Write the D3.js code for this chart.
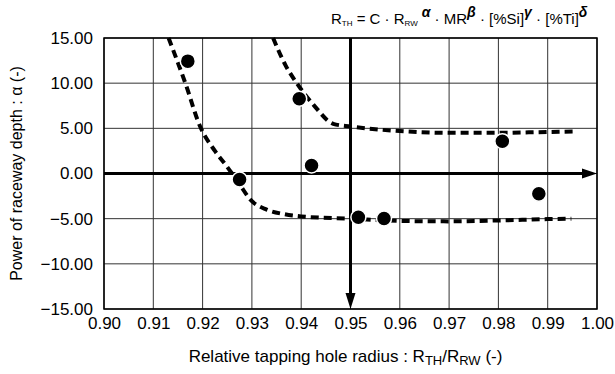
<!DOCTYPE html>
<html>
<head>
<meta charset="utf-8">
<script src="https://cdn.jsdelivr.net/npm/d3@7"></script>
<style>
  body { margin: 0; background: #fff; }
  text { font-family: "Liberation Sans", Arial, sans-serif; fill: #000; }
</style>
</head>
<body>
<div id="chart"></div>
<script>
// measured points
const ptX = [0.9170, 0.9275, 0.9396, 0.9421, 0.9516, 0.9568, 0.9808, 0.9882];
const ptY = [12.44, -0.66, 8.27, 0.89, -4.84, -4.98, 3.58, -2.25];

// dashed trend curves
const upperX = [0.9343, 0.9368, 0.9391, 0.9425, 0.9465, 0.9500, 0.9550, 0.9600, 0.9700, 0.9800, 0.9900, 0.9955];
const upperY = [15.0, 12.0, 10.0, 7.6, 5.5, 5.2, 4.9, 4.7, 4.5, 4.5, 4.6, 4.65];
const lowerX = [0.9131, 0.9165, 0.9195, 0.9225, 0.9249, 0.9275, 0.9297, 0.9330, 0.9365, 0.9400, 0.9500, 0.9600, 0.9700, 0.9800, 0.9900, 0.9948];
const lowerY = [15.0, 10.0, 5.2, 2.5, 0.8, -1.2, -2.9, -4.0, -4.5, -4.75, -5.0, -5.25, -5.3, -5.2, -5.05, -5.0];

const xTicks = [0.90, 0.91, 0.92, 0.93, 0.94, 0.95, 0.96, 0.97, 0.98, 0.99, 1.00];
const yTicks = [15, 10, 5, 0, -5, -10, -15];

const W = 615, H = 374;
const margin = { top: 38, right: 18, bottom: 65, left: 104 };
const width = W - margin.left - margin.right;
const height = H - margin.top - margin.bottom;

const svg = d3.select("#chart").append("svg")
    .attr("width", W)
    .attr("height", H);

const g = svg.append("g")
    .attr("transform", "translate(" + margin.left + "," + margin.top + ")");

const x = d3.scaleLinear().domain([0.90, 1.00]).range([0, width]);
const y = d3.scaleLinear().domain([-15, 15]).range([height, 0]);

// grid
g.selectAll(".gx").data(xTicks).enter().append("line")
    .attr("x1", d => x(d)).attr("x2", d => x(d))
    .attr("y1", 0).attr("y2", height)
    .attr("stroke", "#333").attr("stroke-width", 1);
g.selectAll(".gy").data(yTicks).enter().append("line")
    .attr("x1", 0).attr("x2", width)
    .attr("y1", d => y(d)).attr("y2", d => y(d))
    .attr("stroke", "#333").attr("stroke-width", 1);

// frame
g.append("rect")
    .attr("width", width).attr("height", height)
    .attr("fill", "none").attr("stroke", "#000").attr("stroke-width", 1.5);

// tick labels via axes
const xAxis = g.append("g")
    .attr("transform", "translate(0," + height + ")")
    .call(d3.axisBottom(x).tickValues(xTicks).tickFormat(d3.format(".2f")).tickSize(0).tickPadding(8));
const yAxis = g.append("g")
    .call(d3.axisLeft(y).tickValues(yTicks).tickFormat(d3.format(".2f")).tickSize(0).tickPadding(11));
[xAxis, yAxis].forEach(a => {
    a.select(".domain").remove();
    a.selectAll("text").style("font-size", "17px").style("font-family", '"Liberation Sans", Arial, sans-serif');
});

// thick axes with arrows
const x0 = x(0.95), y0 = y(0);
g.append("line")
    .attr("x1", 0).attr("x2", x(1.00) - 12)
    .attr("y1", y0).attr("y2", y0)
    .attr("stroke", "#000").attr("stroke-width", 3);
g.append("path")
    .attr("d", "M" + x(1.00) + "," + y0 + "L" + (x(1.00) - 15) + "," + (y0 - 5) + "L" + (x(1.00) - 15) + "," + (y0 + 5) + "Z")
    .attr("fill", "#000");
g.append("line")
    .attr("x1", x0).attr("x2", x0)
    .attr("y1", 0).attr("y2", y(-15) - 12)
    .attr("stroke", "#000").attr("stroke-width", 3);
g.append("path")
    .attr("d", "M" + x0 + "," + y(-15) + "L" + (x0 - 5) + "," + (y(-15) - 16) + "L" + (x0 + 5) + "," + (y(-15) - 16) + "Z")
    .attr("fill", "#000");

// dashed curves
const line = d3.line().x(d => x(d[0])).y(d => y(d[1])).curve(d3.curveMonotoneX);
[[upperX, upperY], [lowerX, lowerY]].forEach(c => {
    g.append("path")
        .datum(c[0].map((v, i) => [v, c[1][i]]))
        .attr("d", line)
        .attr("fill", "none")
        .attr("stroke", "#000")
        .attr("stroke-width", 4)
        .attr("stroke-dasharray", "8,5");
});

// points
g.selectAll(".pt").data(ptX.map((v, i) => [v, ptY[i]])).enter().append("circle")
    .attr("cx", d => x(d[0])).attr("cy", d => y(d[1]))
    .attr("r", 7.5)
    .attr("fill", "#000").attr("stroke", "#fff").attr("stroke-width", 1.5);

// axis titles
svg.append("text")
    .attr("transform", "translate(22," + (margin.top + height / 2) + ") rotate(-90)")
    .attr("text-anchor", "middle")
    .style("font-size", "16px")
    .text("Power of raceway depth : α (-)");

const xl = svg.append("text")
    .attr("x", margin.left + width / 2 - 5).attr("y", 362)
    .attr("text-anchor", "middle")
    .style("font-size", "17px");
xl.append("tspan").text("Relative tapping hole radius : R");
xl.append("tspan").attr("baseline-shift", "-25%").style("font-size", "13px").text("TH");
xl.append("tspan").text("/R");
xl.append("tspan").attr("baseline-shift", "-25%").style("font-size", "13px").text("RW");
xl.append("tspan").text(" (-)");

// formula
const sup = t => f.append("tspan").attr("baseline-shift", "50%").style("font-size", "14px")
    .style("font-weight", "bold").style("font-style", "italic").text(t);
const sub = t => f.append("tspan").attr("baseline-shift", "-30%").style("font-size", "8px").text(t);
const f = svg.append("text")
    .attr("x", 331).attr("y", 24)
    .style("font-size", "15px");
f.append("tspan").text("R");
sub("TH");
f.append("tspan").text(" = C · R");
sub("RW");
sup(" α");
f.append("tspan").text(" · MR");
sup("β");
f.append("tspan").text(" · [%Si]");
sup("γ");
f.append("tspan").text(" · [%Ti]");
sup("δ");
</script>
</body>
</html>
